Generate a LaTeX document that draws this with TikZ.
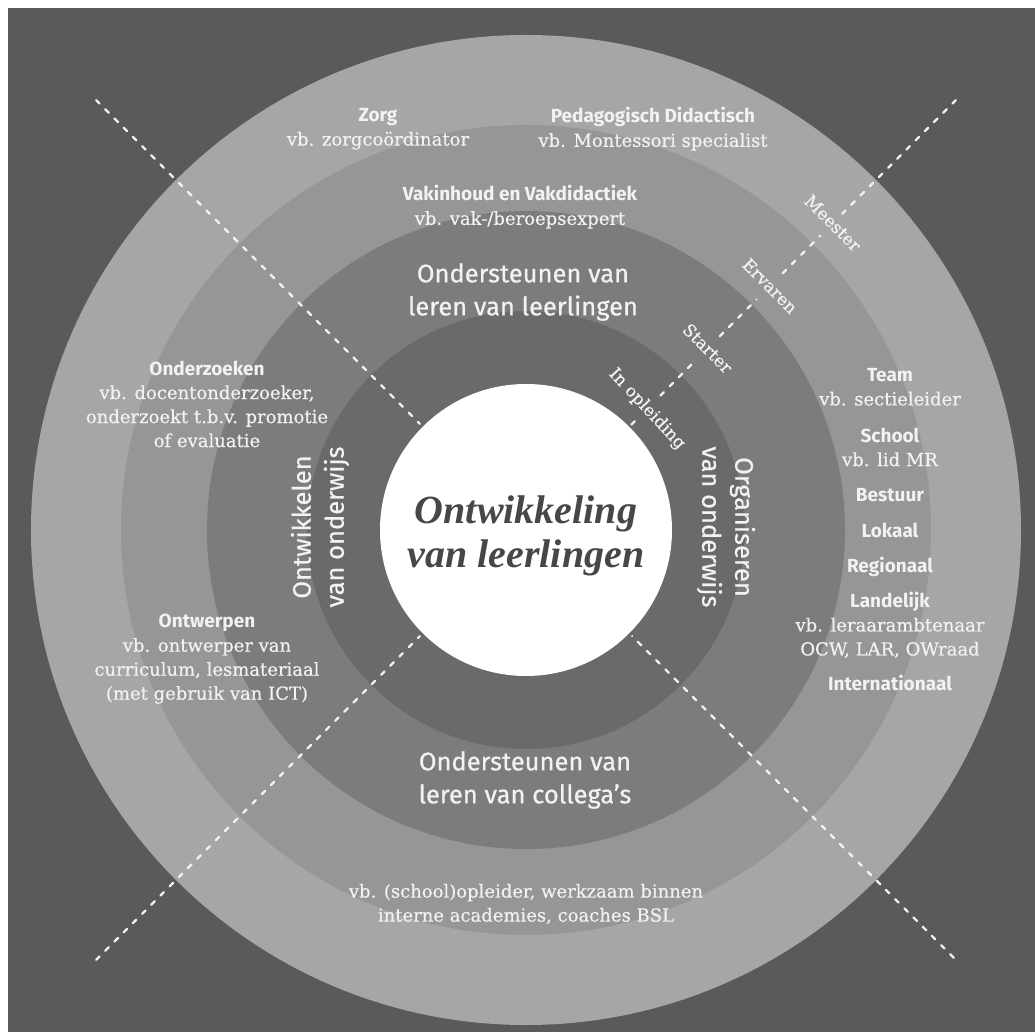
\documentclass[tikz,border=0pt]{standalone}
\usepackage{fontspec}
\setmainfont[FakeBold=0.4]{DejaVu Serif}
\newfontfamily\sansf{Fira Sans}
\newfontfamily\sansm[FakeBold=0.6]{Fira Sans}
\newfontfamily\titlef{Liberation Serif}
\definecolor{bgc}{HTML}{5A5A5A}
\definecolor{ringA}{HTML}{A6A6A6}
\definecolor{ringB}{HTML}{969696}
\definecolor{ringC}{HTML}{7C7C7C}
\definecolor{ringD}{HTML}{6A6A6A}
\definecolor{txt}{HTML}{F2F2F2}
\definecolor{ttl}{HTML}{474747}
\newcommand{\hd}[1]{{\sansf\bfseries\fontsize{19}{24}\selectfont #1}}
\tikzset{
  lbl/.style={text=txt, align=center, inner sep=0pt, font=\fontsize{18}{24}\selectfont},
  big/.style={text=txt, align=center, inner sep=0pt, font=\sansm\fontsize{25.5}{33}\selectfont},
  lvl/.style={text=txt, inner sep=0pt, font=\fontsize{17}{20}\selectfont, rotate=-45},
  dashline/.style={draw=txt, line width=2.2pt, line cap=round, dash pattern=on 5pt off 8pt}
}
\begin{document}
\begin{tikzpicture}[x=1pt,y=1pt]
\useasboundingbox (-526,530) rectangle (509,-502);
\fill[white] (-526,530) rectangle (509,-502);
\fill[bgc] (-518,522) rectangle (509,-502);
% rings
\fill[ringA] (0,0) circle (495);
\fill[ringB] (0,0) circle (405);
\fill[ringC] (0,0) circle (319);
\fill[ringD] (0,0) circle (219);
\fill[white] (0,0) circle (146);
% dashed diagonals
\coordinate (tl) at (135:608);
\coordinate (tlin) at (135:150);
\coordinate (bl) at (225:608);
\coordinate (blin) at (225:150);
\coordinate (br) at (315:605);
\coordinate (brin) at (315:150);
\draw[dashline] (tl) -- (tlin);
\draw[dashline] (bl) -- (blin);
\draw[dashline] (br) -- (brin);
\coordinate (a1) at (45:149); \coordinate (a2) at (45:157);
\coordinate (b1) at (45:190); \coordinate (b2) at (45:240);
\coordinate (c1) at (45:274); \coordinate (c2) at (45:326);
\coordinate (d1) at (45:363); \coordinate (d2) at (45:416);
\coordinate (e1) at (45:447); \coordinate (e2) at (45:608);
\draw[dashline] (a1) -- (a2);
\draw[dashline] (b1) -- (b2);
\draw[dashline] (c1) -- (c2);
\draw[dashline] (d1) -- (d2);
\draw[dashline] (e1) -- (e2);
% level labels
\node[lvl] (meester) at (45:434) {Meester};
\node[lvl] (ervaren) at (45:345) {Ervaren};
\node[lvl] (starter) at (45:257) {Starter};
\node[lvl, rotate=-2] (opl) at (45:171) {In opleiding};
% top texts
\node[lbl] (zorg) at (-148,401) {\hd{Zorg}\\vb. zorgcoördinator};
\node[lbl] (ped) at (127,401) {\hd{Pedagogisch Didactisch}\\vb. Montessori specialist};
\node[lbl] (vak) at (-6,323) {\hd{Vakinhoud en Vakdidactiek}\\vb. vak-/beroepsexpert};
\node[big] (ondl) at (-3,238) {Ondersteunen van\\leren van leerlingen};
% left texts
\node[lbl] (onderz) at (-319,126) {\hd{Onderzoeken}\\vb. docentonderzoeker,\\onderzoekt t.b.v. promotie\\of evaluatie};
\node[lbl] (ontw) at (-319,-129) {\hd{Ontwerpen}\\vb. ontwerper van\\curriculum, lesmateriaal\\(met gebruik van ICT)};
\node[big, rotate=90] (ontwik) at (-206,3) {Ontwikkelen\\van onderwijs};
\node[big, rotate=-90] (organ) at (200,3) {Organiseren\\van onderwijs};
% bottom texts
\node[big] (ondc) at (-1,-250) {Ondersteunen van\\leren van collega’s};
\node[lbl] (school) at (0,-374) {vb. (school)opleider, werkzaam binnen\\interne academies, coaches BSL};
% right column
\node[lbl] (team) at (364,143) {\hd{Team}\\vb. sectieleider};
\node[lbl] (schl) at (364,83) {\hd{School}\\vb. lid MR};
\node[lbl] (best) at (364,35) {\hd{Bestuur}};
\node[lbl] (lok) at (364,0) {\hd{Lokaal}};
\node[lbl] (reg) at (364,-37) {\hd{Regionaal}};
\node[lbl] (land) at (364,-95) {\hd{Landelijk}\\vb. leraarambtenaar\\OCW, LAR, OWraad};
\node[lbl] (int) at (364,-153) {\hd{Internationaal}};
% centre title
\node[text=ttl, align=center, inner sep=0pt, font=\titlef\bfseries\itshape\fontsize{40}{44}\selectfont] (title) at (0,-6) {Ontwikkeling\\van leerlingen};
\end{tikzpicture}
\end{document}
